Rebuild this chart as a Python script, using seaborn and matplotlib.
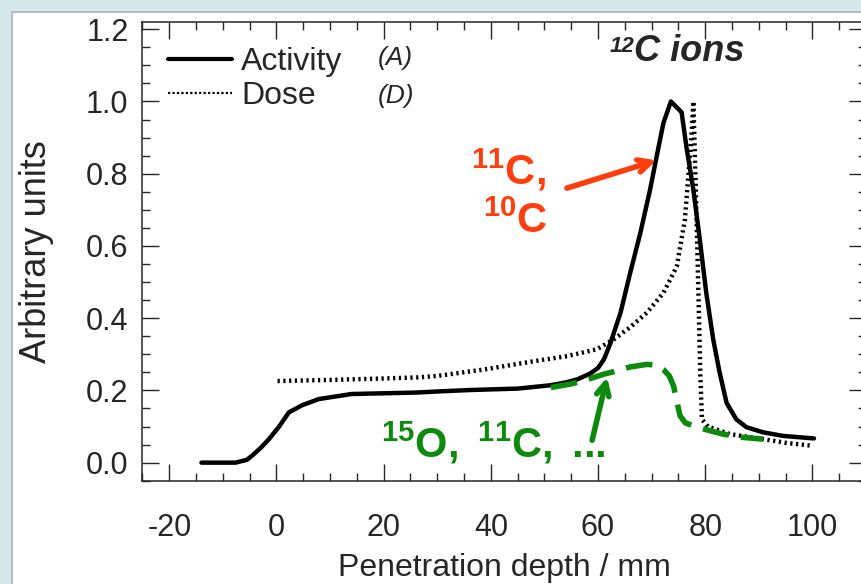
import matplotlib
matplotlib.use("Agg")
import matplotlib.pyplot as plt
import seaborn as sns
from matplotlib.lines import Line2D
from matplotlib.patches import Rectangle
from matplotlib.ticker import MultipleLocator, FormatStrFormatter

# depth in mm, values in arbitrary units
act_x = [-14, -7.6, -5.5, -4.5, -3, -1.4, 0.5, 2.3, 4.8, 7.9, 14, 20, 26, 30, 36, 45,
         51, 54, 56.2, 58.6, 60, 61.1, 62.3, 64.2, 66, 67.9, 69.7, 71.3, 72.2, 73.6,
         75.6, 76.5, 77.8, 79, 80.2, 81.5, 82.7, 84, 85.8, 87.7, 90.8, 94.5, 100.3]
act_y = [0.0, 0.0, 0.008, 0.02, 0.04, 0.065, 0.10, 0.139, 0.159, 0.176, 0.19, 0.192, 0.194,
         0.197, 0.201, 0.205, 0.214, 0.222, 0.231, 0.247, 0.262, 0.286, 0.33, 0.415, 0.525,
         0.636, 0.755, 0.874, 0.94, 1.0, 0.97, 0.874, 0.755, 0.617, 0.47, 0.341, 0.249,
         0.165, 0.12, 0.098, 0.084, 0.074, 0.067]

dose_x = [0.2, 10, 20, 26.4, 30, 38.8, 48.1, 54.3, 59.8, 62.9, 66, 69.1, 72.2, 74.7, 76.2,
          76.8, 77.5, 77.8, 78.2, 78.5, 78.8, 79.1, 79.4, 80.5, 84.6, 90.8, 95, 99.7]
dose_y = [0.226, 0.229, 0.233, 0.236, 0.24, 0.258, 0.281, 0.295, 0.314, 0.341, 0.375, 0.415,
          0.47, 0.543, 0.672, 0.783, 0.92, 1.0, 0.78, 0.61, 0.43, 0.24, 0.12, 0.1, 0.079,
          0.065, 0.055, 0.047]

frag_x = [51.2, 55, 58, 61.1, 63.5, 66, 69.1, 71, 72.2, 73.3, 74.1, 74.7, 75.3, 76.3, 77.8,
          80, 83.3, 87, 90.8]
frag_y = [0.208, 0.218, 0.23, 0.245, 0.254, 0.265, 0.272, 0.27, 0.258, 0.24, 0.212, 0.17,
          0.13, 0.11, 0.102, 0.092, 0.079, 0.07, 0.065]

orange = "#ff3d0d"
green = "#0b8a0b"

sns.set_style("ticks")
plt.rcParams["font.family"] = ["Liberation Sans", "DejaVu Sans"]
plt.rcParams["axes.unicode_minus"] = False
plt.rcParams["mathtext.fontset"] = "custom"
plt.rcParams["mathtext.rm"] = "Liberation Sans"
plt.rcParams["mathtext.bf"] = "Liberation Sans:bold"
plt.rcParams["mathtext.it"] = "Liberation Sans:italic"

fig = plt.figure(figsize=(8.62, 5.84), dpi=100, facecolor="#d6e7ea")
fig.add_artist(Rectangle((12 / 862, -0.01), 1.0, 1.0 - 12 / 584 + 0.01,
                         transform=fig.transFigure, facecolor="white",
                         edgecolor="#a8b3b5", lw=1.2, zorder=-1))
ax = fig.add_axes([0.1653, 0.1769, 1.0046 - 0.1653, 0.9623 - 0.1769])

sns.lineplot(x=act_x, y=act_y, ax=ax, color="black", lw=3.2, sort=False, estimator=None)
sns.lineplot(x=dose_x, y=dose_y, ax=ax, color="black", lw=3.2, sort=False, estimator=None,
             linestyle=(0, (0.5, 0.8)))
sns.lineplot(x=frag_x, y=frag_y, ax=ax, color=green, lw=4, sort=False, estimator=None,
             linestyle=(0, (4.8, 2.2)))
for ln in ax.lines:
    ln.set_dash_capstyle("butt")

ax.set_xlim(-25, 110)
ax.set_ylim(-0.05, 1.22)
ax.xaxis.set_major_locator(MultipleLocator(20))
ax.xaxis.set_minor_locator(MultipleLocator(5))
ax.yaxis.set_major_locator(MultipleLocator(0.2))
ax.yaxis.set_minor_locator(MultipleLocator(0.05))
ax.yaxis.set_major_formatter(FormatStrFormatter("%.1f"))
ax.tick_params(which="both", direction="in", top=True, right=True, width=1)
ax.tick_params(which="major", length=12)
ax.tick_params(which="minor", length=6)
ax.tick_params(axis="x", labelsize=22, pad=23)
ax.tick_params(axis="y", labelsize=22, pad=10)
for s in ax.spines.values():
    s.set_linewidth(1.1)

ax.set_xlabel("Penetration depth / mm", fontsize=23, va="baseline")
ax.xaxis.set_label_coords(0.5, -0.2078)
ax.set_ylabel("Arbitrary units", fontsize=26, va="center")
ax.yaxis.set_label_coords(-0.146, 0.5)

handles = [Line2D([], [], color="black", lw=3),
           Line2D([], [], color="black", lw=1.6, linestyle=(0, (1, 1)))]
ax.legend(handles, ["Activity", "Dose"], loc="upper left", bbox_to_anchor=(0.035, 0.945),
          frameon=False, fontsize=23, handlelength=2.0, handletextpad=0.3,
          labelspacing=0.12, borderpad=0, borderaxespad=0)
ax.text(0.3255, 0.9215, "(A)", transform=ax.transAxes, fontsize=19, style="italic",
        ha="left", va="center")
ax.text(0.3255, 0.8387, "(D)", transform=ax.transAxes, fontsize=19, style="italic",
        ha="left", va="center")

t = ax.text(66.8, 1.137, "C ions", fontsize=26, fontweight="bold", style="italic",
            ha="left", va="center")
ax.annotate("12", xy=(0, 0.95), xycoords=t, fontsize=16, fontweight="bold",
            style="italic", ha="right", va="top")

ax.text(43.2, 0.81, r"$\mathbf{^{11}C,}$", fontsize=30, color=orange, ha="center", va="center")
ax.text(44.5, 0.666, r"$\mathbf{^{10}C}$", fontsize=30, color=orange, ha="center", va="center")
ax.annotate("", xy=(70.9, 0.837), xytext=(54.2, 0.76),
            arrowprops=dict(arrowstyle="->,head_length=0.9,head_width=0.45",
                            color=orange, lw=4, shrinkA=0, shrinkB=0))

ax.text(40.4, 0.054, r"$\mathbf{^{15}O,}$ $\mathbf{^{11}C,}$ ...", fontsize=30,
        fontweight="bold", color=green, ha="center", va="center")
ax.annotate("", xy=(61.7, 0.237), xytext=(58.9, 0.062),
            arrowprops=dict(arrowstyle="->,head_length=0.9,head_width=0.45",
                            color=green, lw=4, shrinkA=0, shrinkB=0))

fig.savefig("out.png", dpi=100, facecolor=fig.get_facecolor())
